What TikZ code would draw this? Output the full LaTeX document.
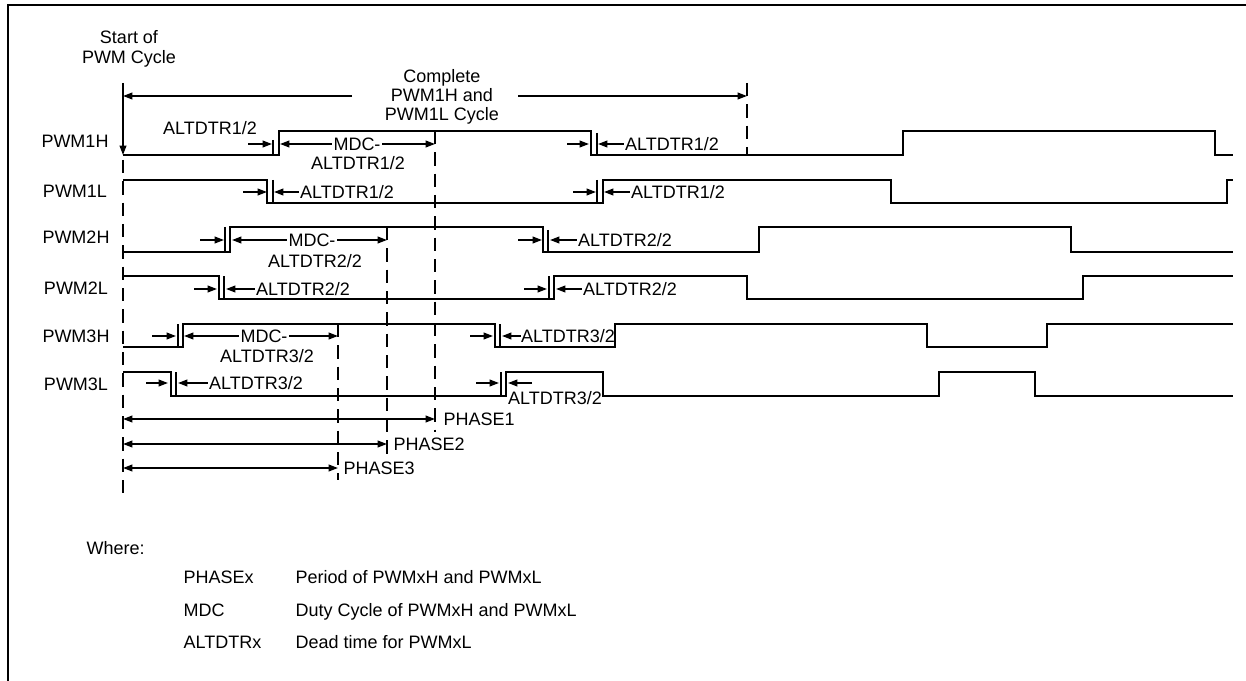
\documentclass[tikz,border=0pt]{standalone}
\usepackage{fontspec}
\setmainfont{Liberation Sans}
\usetikzlibrary{arrows.meta}

\begin{document}
\begin{tikzpicture}[x=0.75pt,y=-0.75pt,
  font=\fontsize{13.5}{14.5}\selectfont,
  wave/.style={line width=2pt},
  guide/.style={line width=1.9pt,dash pattern=on 10pt off 6pt},
  dim/.style={-{Triangle[length=7pt,width=5pt]},line width=1.3pt},
  both/.style={{Triangle[length=7pt,width=5pt]}-{Triangle[length=7pt,width=5pt]},line width=1.3pt},
  tick/.style={line width=0.9pt},
  lbl/.style={inner sep=1pt,text depth=0pt}]
\useasboundingbox (0,0) rectangle (1246,681);
\draw[line width=1.8pt] (8,681) -- (8,5) -- (1246,5);

\node[lbl,align=center] (start) at (129,47) {Start of\\PWM Cycle};
\node[lbl,align=center] (cycle) at (442,95) {Complete\\PWM1H and\\PWM1L Cycle};
\draw[dim] (123,83) -- (123,155);
\draw[dim] (352,96) -- (123,96);
\draw[dim] (518,96) -- (747,96);
\draw[guide] (747,83) -- (747,155);

\node[lbl] (pwm1h) at (75,141) {PWM1H};
\node[lbl] (pwm1l) at (75,191) {PWM1L};
\node[lbl] (pwm2h) at (76,237) {PWM2H};
\node[lbl] (pwm2l) at (76,288) {PWM2L};
\node[lbl] (pwm3h) at (76,336) {PWM3H};
\node[lbl] (pwm3l) at (76,384) {PWM3L};

\draw[wave] (123,155) -- (279,155) -- (279,131) -- (591,131) -- (591,155) -- (903,155) -- (903,131) -- (1215,131) -- (1215,155) -- (1233,155);
\draw[wave] (123,180) -- (267,180) -- (267,203) -- (603,203) -- (603,180) -- (891,180) -- (891,203) -- (1227,203) -- (1227,180) -- (1233,180);
\draw[wave] (123,252) -- (230,252) -- (230,227) -- (543,227) -- (543,252) -- (759,252) -- (759,227) -- (1071,227) -- (1071,252) -- (1233,252);
\draw[wave] (123,276) -- (219,276) -- (219,299) -- (554,299) -- (554,276) -- (747,276) -- (747,299) -- (1083,299) -- (1083,276) -- (1233,276);
\draw[wave] (123,347) -- (183,347) -- (183,324) -- (495,324) -- (495,347) -- (615,347) -- (615,324) -- (927,324) -- (927,347) -- (1047,347) -- (1047,324) -- (1233,324);
\draw[wave] (123,372) -- (171,372) -- (171,396) -- (506,396) -- (506,372) -- (603,372) -- (603,396) -- (939,396) -- (939,372) -- (1035,372) -- (1035,396) -- (1233,396);

\draw[tick] (273,140) -- (273,155) (597,133) -- (597,155);
\draw[tick] (273,180) -- (273,203) (597,180) -- (597,203);
\draw[tick] (225,227) -- (225,252) (548,230) -- (548,253);
\draw[tick] (224,276) -- (224,299) (549,276) -- (549,299);
\draw[tick] (178,324) -- (178,347) (500,324) -- (500,347);
\draw[tick] (176,372) -- (176,396) (501,372) -- (501,396);

\draw[guide] (123,160) -- (123,500);
\draw[guide] (435,131) -- (435,432);
\draw[guide] (387,227) -- (387,455);
\draw[guide] (338,324) -- (338,480);

% PWM1H
\node[lbl] (dt1a) at (210,128) {ALTDTR1/2};
\draw[dim] (248,144) -- (272,144);
\node[lbl] (mdc1) at (357,144) {MDC-};
\node[lbl] at (358,163) {ALTDTR1/2};
\draw[dim] (mdc1) -- (280,144);
\draw[dim] (mdc1) -- (435,144);
\draw[dim] (567,144) -- (589,144);
\node[lbl] (dt1b) at (672,144) {ALTDTR1/2};
\draw[dim] (dt1b) -- (598,144);
% PWM1L
\draw[dim] (243,192) -- (267,192);
\node[lbl] (dt1c) at (347,192) {ALTDTR1/2};
\draw[dim] (dt1c) -- (274,192);
\draw[dim] (573,192) -- (596,192);
\node[lbl] (dt1d) at (678,192) {ALTDTR1/2};
\draw[dim] (dt1d) -- (604,192);
% PWM2H
\draw[dim] (200,240) -- (224,240);
\node[lbl] (mdc2) at (312,240) {MDC-};
\node[lbl] at (315,261) {ALTDTR2/2};
\draw[dim] (mdc2) -- (232,240);
\draw[dim] (mdc2) -- (387,240);
\draw[dim] (518,240) -- (542,240);
\node[lbl] (dt2a) at (625,240) {ALTDTR2/2};
\draw[dim] (dt2a) -- (550,240);
% PWM2L
\draw[dim] (194,289) -- (217,289);
\node[lbl] (dt2b) at (303,289) {ALTDTR2/2};
\draw[dim] (dt2b) -- (226,289);
\draw[dim] (524,289) -- (547,289);
\node[lbl] (dt2c) at (630,289) {ALTDTR2/2};
\draw[dim] (dt2c) -- (556,289);
% PWM3H
\draw[dim] (152,336) -- (176,336);
\node[lbl] (mdc3) at (264,336) {MDC-};
\node[lbl] at (267,356) {ALTDTR3/2};
\draw[dim] (mdc3) -- (184,336);
\draw[dim] (mdc3) -- (338,336);
\draw[dim] (470,336) -- (493,336);
\node[lbl,inner sep=0pt] (dt3a) at (568,336) {ALTDTR3/2};
\draw[dim] (dt3a) -- (502,336);
% PWM3L
\draw[dim] (146,383) -- (168,383);
\node[lbl] (dt3b) at (256,383) {ALTDTR3/2};
\draw[dim] (dt3b) -- (178,383);
\draw[dim] (476,383) -- (499,383);
\draw[dim] (532,383) -- (508,383);
\node[lbl] (dt3c) at (555,398) {ALTDTR3/2};

\draw[both] (123,419) -- (435,419);
\node[lbl,anchor=west] (ph1) at (442,419) {PHASE1};
\draw[both] (123,444) -- (387,444);
\node[lbl,anchor=west] (ph2) at (392,444) {PHASE2};
\draw[both] (123,468) -- (338,468);
\node[lbl,anchor=west] (ph3) at (342,468) {PHASE3};

\node[lbl,anchor=west] (where) at (85,548) {Where:};
\node[lbl,anchor=west] (phx) at (182,577) {PHASEx};
\node[lbl,anchor=west] at (294,577) {Period of PWMxH and PWMxL};
\node[lbl,anchor=west] (mdcx) at (182,610) {MDC};
\node[lbl,anchor=west] at (294,610) {Duty Cycle of PWMxH and PWMxL};
\node[lbl,anchor=west] (dtx) at (182,642) {ALTDTRx};
\node[lbl,anchor=west] at (294,642) {Dead time for PWMxL};
\end{tikzpicture}
\end{document}
